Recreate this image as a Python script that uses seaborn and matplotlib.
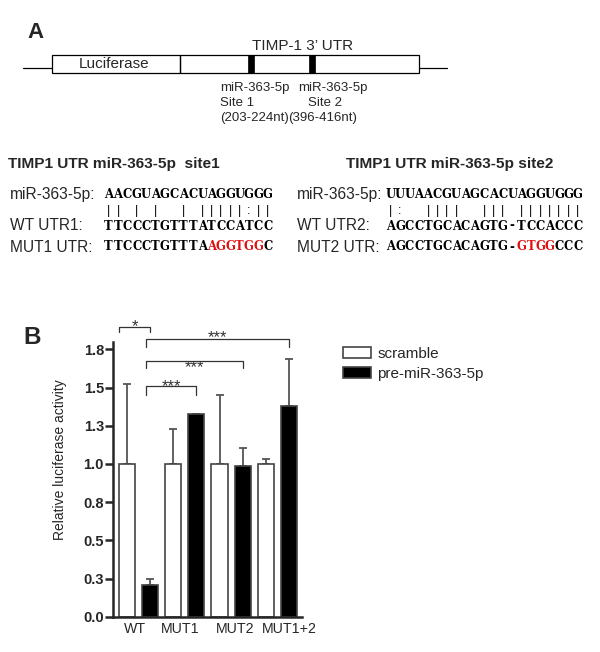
import numpy as np
import pandas as pd
import matplotlib
matplotlib.use("Agg")
import matplotlib.pyplot as plt
import seaborn as sns
from matplotlib.patches import Rectangle

# bar chart data (panel B)
constructs = ["WT", "MUT1", "MUT2", "MUT1+2"]
treatments = ["scramble", "pre-miR-363-5p"]
scramble_mean = [1.00, 1.00, 1.00, 1.00]
scramble_err = [0.52, 0.23, 0.45, 0.03]
pre_mean = [0.21, 1.325, 0.986, 1.38]
pre_err = [0.04, 0.005, 0.115, 0.305]
ytick_labels = ["0.0", "0.3", "0.5", "0.8", "1.0", "1.3", "1.5", "1.8"]

# sequence alignments (panel A)
mir_site1 = "AACGUAGCACUAGGUGGG"
match_site1 = "|| | |  | |||||:||"
wt_utr1 = "TTCCCTGTTTATCCATCC"
mut1_utr = "TTCCCTGTTTAAGGTGGC"
mut1_red = range(11, 17)
mir_site2 = "UUUAACGUAGCACUAGGUGGG"
match_site2 = "|:  ||||  ||| |||||||"
wt_utr2 = "AGCCTGCACAGTG-TCCACCC"
mut2_utr = "AGCCTGCACAGTG-GTGGCCC"
mut2_red = range(14, 18)

# significance brackets: (left x, right x, height, drop, label, label y)
sig_brackets = [(-0.42, 0.25, 1.899, 0.037, "*", 1.93),
                (0.17, 3.25, 1.815, 0.048, "***", 1.857),
                (0.17, 2.25, 1.672, 0.044, "***", 1.665),
                (0.17, 1.25, 1.508, 0.057, "***", 1.538)]

sns.set_style("ticks")
plt.rcParams["font.family"] = ["Liberation Sans", "DejaVu Sans"]
RED = "#dd1111"

fig = plt.figure(figsize=(6, 6.52), dpi=100)

# ---- panel A drawn in pixel coordinates ----
ax0 = fig.add_axes([0, 0, 1, 1])
ax0.set_xlim(0, 600)
ax0.set_ylim(652, 0)
ax0.axis("off")

ax0.text(36, 32, "A", fontsize=16, fontweight="bold", ha="center", va="center")
ax0.plot([23, 51.7], [68, 68], color="black", lw=0.9)
ax0.plot([419.3, 447], [68, 68], color="black", lw=0.9)
ax0.add_patch(Rectangle((51.7, 55), 128.3, 17.7, fill=False, ec="black", lw=0.9))
ax0.add_patch(Rectangle((180, 55), 239.3, 17.7, fill=False, ec="black", lw=0.9))
ax0.add_patch(Rectangle((248.3, 55), 5.7, 17.7, fc="black", ec="black", lw=0.5))
ax0.add_patch(Rectangle((309.3, 55), 6, 17.7, fc="black", ec="black", lw=0.5))
ax0.text(114, 64, "Luciferase", fontsize=11, ha="center", va="center")
ax0.text(303, 46, "TIMP-1 3\u2019 UTR", fontsize=11, ha="center", va="center")

site_fs = 9.5
ax0.text(220, 88, "miR-363-5p", fontsize=site_fs, ha="left", va="center")
ax0.text(220, 103, "Site 1", fontsize=site_fs, ha="left", va="center")
ax0.text(220, 118, "(203-224nt)", fontsize=site_fs, ha="left", va="center")
ax0.text(333, 88, "miR-363-5p", fontsize=site_fs, ha="center", va="center")
ax0.text(325, 103, "Site 2", fontsize=site_fs, ha="center", va="center")
ax0.text(323, 118, "(396-416nt)", fontsize=site_fs, ha="center", va="center")

ax0.text(8, 164, "TIMP1 UTR miR-363-5p  site1", fontsize=11.1, fontweight="bold",
         ha="left", va="center")
ax0.text(450, 164, "TIMP1 UTR miR-363-5p site2", fontsize=11.1, fontweight="bold",
         ha="center", va="center")


def seq_row(x0, y, seq, red=(), font="DejaVu Serif", size=8.4, weight="bold", pitch=9.35):
    for i, ch in enumerate(seq):
        if ch == " ":
            continue
        ax0.text(x0 + pitch * (i + 0.5), y, ch, ha="center", va="center",
                 color=RED if i in red else "black", family=font,
                 fontsize=size, fontweight=weight)


row_y = [195, 211, 226, 247]
for x_lab, x_seq, labels, rows, red in [
        (10, 104, ["miR-363-5p:", "WT UTR1:", "MUT1 UTR:"],
         [mir_site1, match_site1, wt_utr1, mut1_utr], mut1_red),
        (297, 386, ["miR-363-5p:", "WT UTR2:", "MUT2 UTR:"],
         [mir_site2, match_site2, wt_utr2, mut2_utr], mut2_red)]:
    for lab, y in zip(labels, [row_y[0], row_y[2], row_y[3]]):
        ax0.text(x_lab, y, lab, fontsize=11.2, ha="left", va="center")
    seq_row(x_seq, row_y[0], rows[0])
    seq_row(x_seq, row_y[1], rows[1], font="Liberation Sans", size=8.8, weight="normal")
    seq_row(x_seq, row_y[2], rows[2])
    seq_row(x_seq, row_y[3], rows[3], red=red)

ax0.text(32, 338, "B", fontsize=17.5, fontweight="bold", ha="center", va="center")

# ---- panel B bar chart ----
ax = fig.add_axes([113 / 600, 1 - 616.7 / 652, 189 / 600, 275 / 652])
df = pd.DataFrame({
    "construct": constructs * 2,
    "treatment": [treatments[0]] * 4 + [treatments[1]] * 4,
    "value": scramble_mean + pre_mean,
})
sns.barplot(data=df, x="construct", y="value", hue="treatment", order=constructs,
            hue_order=treatments, palette=["white", "black"], width=1.0, gap=0.3,
            errorbar=None, edgecolor="#444444", linewidth=1.2, legend=False,
            zorder=2, ax=ax)
bar_sets = list(ax.containers)

for cont, means, errs in zip(bar_sets, [scramble_mean, pre_mean], [scramble_err, pre_err]):
    xs = [p.get_x() + p.get_width() / 2 for p in cont.patches]
    ax.errorbar(xs, means, yerr=[np.zeros(len(errs)), errs], fmt="none",
                ecolor="#555555", elinewidth=1.3, capsize=3, capthick=1.3, zorder=1)

for x1, x2, y, drop, label, ty in sig_brackets:
    ax.plot([x1, x1, x2, x2], [y - drop, y, y, y - drop], color="#333333", lw=0.9,
            clip_on=False)
    ax.annotate(label, ((x1 + x2) / 2, ty), xytext=(0, -6.8), textcoords="offset points",
                ha="center", va="baseline", fontsize=12, color="#333333",
                annotation_clip=False)

ax.set_xlim(-0.55, 3.53)
ax.set_ylim(0, 1.8)
ax.set_yticks(np.arange(0, 1.76, 0.25))
ax.set_yticklabels(ytick_labels, fontweight="bold", fontsize=10.5)
# category labels sit slightly off the group centres in the original
ax.set_xticks([-0.08, 0.9, 2.08, 3.26])
ax.set_xticklabels(constructs)
ax.tick_params(axis="y", length=6, width=1.8, pad=0.5)
ax.tick_params(axis="x", length=0, pad=4, labelsize=10.2)
ax.set_xlabel("")
ax.set_ylabel("Relative luciferase activity", fontsize=10)
ax.yaxis.set_label_coords(-0.243, 0.573)
sns.despine(ax=ax)
for s in ["left", "bottom"]:
    ax.spines[s].set_linewidth(1.8)

handles = [c.patches[0] for c in bar_sets]
ax.legend(handles, treatments, loc="upper left", bbox_to_anchor=(343 / 600, 1 - 347 / 652),
          bbox_transform=fig.transFigure, frameon=False, fontsize=11, handlelength=1.8,
          handleheight=0.7, handletextpad=0.45, borderaxespad=0, borderpad=0,
          labelspacing=0.4)

fig.savefig("out.png", dpi=100, facecolor="white")
